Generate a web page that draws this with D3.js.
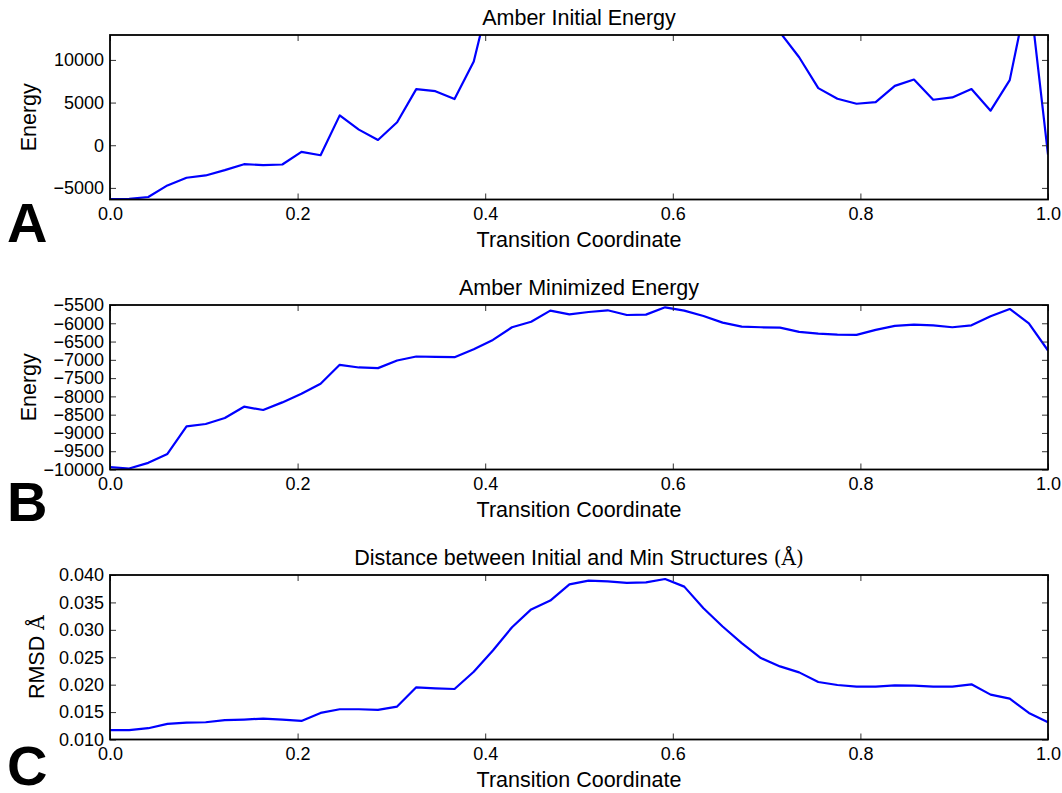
<!DOCTYPE html>
<html>
<head>
<meta charset="utf-8">
<script src="https://cdn.jsdelivr.net/npm/d3@7"></script>
<style>
  html, body { margin: 0; padding: 0; background: #fff; }
  svg { display: block; font-family: "Liberation Sans", Arial, Helvetica, sans-serif; }
</style>
</head>
<body>
<svg id="fig" width="1062" height="793"></svg>
<script>
// ---------- data ----------
const coordinate = [0, 0.0204, 0.0408, 0.0612, 0.0816, 0.1020, 0.1224, 0.1429, 0.1633, 0.1837,
  0.2041, 0.2245, 0.2449, 0.2653, 0.2857, 0.3061, 0.3265, 0.3469, 0.3673, 0.3878,
  0.4082, 0.4286, 0.4490, 0.4694, 0.4898, 0.5102, 0.5306, 0.5510, 0.5714, 0.5918,
  0.6122, 0.6327, 0.6531, 0.6735, 0.6939, 0.7143, 0.7347, 0.7551, 0.7755, 0.7959,
  0.8163, 0.8367, 0.8571, 0.8776, 0.8980, 0.9184, 0.9388, 0.9592, 0.9796, 1.0];

const initialEnergy = [-6300, -6280, -6070, -4710, -3810, -3540, -2920, -2220, -2330, -2260,
  -780, -1170, 3500, 1830, 620, 2690, 6580, 6340, 5410, 9810,
  19000, 26000, 31000, 36000, 42000, 40000, 44000, 47000, 45000, 39000,
  33000, 27000, 22000, 18000, 15500, 13230, 10310, 6690, 5450, 4860,
  5060, 6960, 7700, 5330, 5600, 6580, 4050, 7630, 18500, -1100];

const minimizedEnergy = [-9936, -9973, -9818, -9573, -8818, -8755, -8591, -8282, -8373, -8164,
  -7927, -7655, -7136, -7209, -7227, -7018, -6909, -6918, -6927, -6709,
  -6455, -6109, -5960, -5655, -5755, -5691, -5645, -5773, -5764, -5564,
  -5655, -5800, -5982, -6091, -6109, -6118, -6236, -6282, -6309, -6318,
  -6182, -6073, -6036, -6055, -6109, -6055, -5809, -5609, -6000, -6745];

const rmsd = [0.0117, 0.0117, 0.01206, 0.01285, 0.01309, 0.01315, 0.01352, 0.01364, 0.01382, 0.01364,
  0.01339, 0.01485, 0.01552, 0.01552, 0.0154, 0.0160, 0.01952, 0.01933, 0.01921, 0.02236,
  0.02624, 0.03048, 0.03373, 0.03533, 0.0383, 0.03897, 0.03885, 0.03855, 0.03867, 0.03927,
  0.03788, 0.03394, 0.0306, 0.02758, 0.02485, 0.02333, 0.02224, 0.02048, 0.01994, 0.01964,
  0.01964, 0.01988, 0.01982, 0.01964, 0.01964, 0.02006, 0.01818, 0.01745, 0.01485, 0.01315];

const xTicks = [0.0, 0.2, 0.4, 0.6, 0.8, 1.0];
const yTicksA = [-5000, 0, 5000, 10000];
const yTicksB = [-10000, -9500, -9000, -8500, -8000, -7500, -7000, -6500, -6000, -5500];
const yTicksC = [0.010, 0.015, 0.020, 0.025, 0.030, 0.035, 0.040];
const yDomainA = [-6360, 12920];
const yDomainB = [-10000, -5500];
const yDomainC = [0.010, 0.040];

const titles = ["Amber Initial Energy", "Amber Minimized Energy", "Distance between Initial and Min Structures "];
const panelLetters = ["A", "B", "C"];
const xLabel = "Transition Coordinate";

// ---------- layout ----------
const svg = d3.select("#fig");
const L = 110, R = 1048, H = 164.5;
const panels = [
  { top: 35, values: initialEnergy, domain: yDomainA, ticks: yTicksA, fmt: d3.format("d"),
    title: titles[0], ylabel: "Energy", ylabX: 36, letter: panelLetters[0], letterY: 242 },
  { top: 305, values: minimizedEnergy, domain: yDomainB, ticks: yTicksB, fmt: d3.format("d"),
    title: titles[1], ylabel: "Energy", ylabX: 36, letter: panelLetters[1], letterY: 521 },
  { top: 575, values: rmsd, domain: yDomainC, ticks: yTicksC, fmt: d3.format(".3f"),
    title: titles[2], ylabel: "RMSD ", ylabX: 44, letter: panelLetters[2], letterY: 785, angstrom: true }
];

const x = d3.scaleLinear().domain([0, 1]).range([L, R]);

panels.forEach((p, k) => {
  const top = p.top, bottom = top + H;
  const y = d3.scaleLinear().domain(p.domain).range([bottom, top]);
  const g = svg.append("g");

  // clip
  const cid = "clip" + k;
  svg.append("defs").append("clipPath").attr("id", cid)
    .append("rect").attr("x", L).attr("y", top).attr("width", R - L).attr("height", H);

  // line
  const line = d3.line().x((d, i) => x(coordinate[i])).y(d => y(d));
  g.append("path").datum(p.values)
    .attr("clip-path", `url(#${cid})`)
    .attr("fill", "none").attr("stroke", "#0000ff").attr("stroke-width", 2.2)
    .attr("stroke-linejoin", "round")
    .attr("d", line);

  // axes (ticks inside on all sides)
  const styleAxis = sel => {
    sel.select(".domain").remove();
    sel.selectAll(".tick line").attr("stroke", "#333").attr("stroke-width", 1);
    sel.selectAll(".tick text").attr("fill", "#000").style("font-size", "18px")
      .style("font-family", "'Liberation Sans', Arial, sans-serif");
  };
  g.append("g").attr("transform", `translate(0,${bottom})`)
    .call(d3.axisBottom(x).tickValues(xTicks).tickSize(-6).tickPadding(8).tickFormat(d3.format(".1f")))
    .call(styleAxis);
  g.append("g").attr("transform", `translate(0,${top})`)
    .call(d3.axisTop(x).tickValues(xTicks).tickSize(-6).tickFormat(""))
    .call(styleAxis);
  g.append("g").attr("transform", `translate(${L},0)`)
    .call(d3.axisLeft(y).tickValues(p.ticks).tickSize(-6).tickPadding(6).tickFormat(p.fmt))
    .call(styleAxis);
  g.append("g").attr("transform", `translate(${R},0)`)
    .call(d3.axisRight(y).tickValues(p.ticks).tickSize(-6).tickFormat(""))
    .call(styleAxis);

  // frame
  g.append("rect").attr("x", L).attr("y", top).attr("width", R - L).attr("height", H)
    .attr("fill", "none").attr("stroke", "#000").attr("stroke-width", 1.8);

  // title
  const t = g.append("text").attr("x", (L + R) / 2).attr("y", top - 10)
    .attr("text-anchor", "middle").style("font-size", "21.5px").text(p.title);
  if (p.angstrom) {
    t.append("tspan").style("font-family", "'DejaVu Serif', 'Liberation Serif', serif")
      .style("font-size", "20px").text("(Å)");
  }

  // x label
  g.append("text").attr("x", (L + R) / 2).attr("y", bottom + 47)
    .attr("text-anchor", "middle").style("font-size", "21.5px").text(xLabel);

  // y label
  const yl = g.append("text").attr("transform", `translate(${p.ylabX},${(top + bottom) / 2}) rotate(-90)`)
    .attr("text-anchor", "middle").style("font-size", "21.5px").text(p.ylabel);
  if (p.angstrom) {
    yl.append("tspan").style("font-family", "'DejaVu Serif', 'Liberation Serif', serif")
      .style("font-size", "20px").text("Å");
  }

  // panel letter
  g.append("text").attr("x", 7).attr("y", p.letterY)
    .style("font-size", "56px").style("font-weight", "bold").text(p.letter);
});
</script>
</body>
</html>
